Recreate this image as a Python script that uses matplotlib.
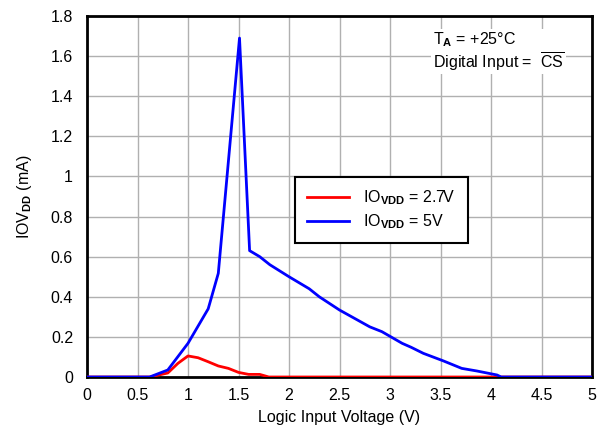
import matplotlib
matplotlib.use("Agg")
import matplotlib.pyplot as plt

plt.rcParams['font.family'] = ['Liberation Sans', 'DejaVu Sans']
plt.rcParams['mathtext.fontset'] = 'custom'
plt.rcParams['mathtext.rm'] = 'Liberation Sans'
plt.rcParams['mathtext.bf'] = 'Liberation Sans:bold'
plt.rcParams['mathtext.it'] = 'Liberation Sans:italic'

x_27 = [0, 0.62, 0.8, 0.9, 1.0, 1.1, 1.2, 1.3, 1.4, 1.5, 1.6, 1.71, 1.8, 5.0]
y_27 = [0, 0, 0.02, 0.068, 0.105, 0.096, 0.076, 0.055, 0.043, 0.023, 0.013, 0.013, 0, 0]

x_5 = [0, 0.62, 0.8, 1.0, 1.2, 1.3, 1.51, 1.61, 1.71, 1.81, 2.0, 2.2, 2.3, 2.5,
       2.8, 2.92, 3.12, 3.21, 3.33, 3.53, 3.71, 3.86, 4.06, 4.1, 5.0]
y_5 = [0, 0, 0.035, 0.168, 0.34, 0.517, 1.69, 0.63, 0.60, 0.56, 0.50, 0.44, 0.40, 0.334,
       0.25, 0.226, 0.168, 0.148, 0.118, 0.08, 0.043, 0.03, 0.01, 0, 0]

x_ticks = [0, 0.5, 1, 1.5, 2, 2.5, 3, 3.5, 4, 4.5, 5]
x_labels = ['0', '0.5', '1', '1.5', '2', '2.5', '3', '3.5', '4', '4.5', '5']
y_ticks = [0, 0.2, 0.4, 0.6, 0.8, 1.0, 1.2, 1.4, 1.6, 1.8]
y_labels = ['0', '0.2', '0.4', '0.6', '0.8', '1', '1.2', '1.4', '1.6', '1.8']

fig = plt.figure(figsize=(5.99, 4.30), dpi=100)
ax = fig.add_axes([87/599, 1-377/430, 505/599, 361/430])

ax.plot(x_27, y_27, color='#ff0000', lw=2, label=r'IO$_{\mathbf{VDD}}$ = 2.7V', zorder=3)
ax.plot(x_5, y_5, color='#0000ff', lw=2, label=r'IO$_{\mathbf{VDD}}$ = 5V', zorder=3)

ax.set_xlim(0, 5)
ax.set_ylim(0, 1.8)
ax.set_xticks(x_ticks)
ax.set_xticklabels(x_labels)
ax.set_yticks(y_ticks)
ax.set_yticklabels(y_labels)
ax.tick_params(axis='x', length=0, labelsize=11.5, pad=8)
ax.tick_params(axis='y', length=0, labelsize=11.5, pad=10)
ax.grid(True, color='#b0b0b0', lw=1)
ax.set_axisbelow(True)
for s in ax.spines.values():
    s.set_linewidth(2)
    s.set_color('black')

ax.set_xlabel('Logic Input Voltage (V)', fontsize=11.5, labelpad=5)
ax.set_ylabel(r'IOV$_{\mathbf{DD}}$ (mA)', fontsize=11.5, labelpad=12)

leg = ax.legend(loc='center', bbox_to_anchor=(0.583, 0.463), fontsize=11.5,
                frameon=True, fancybox=False, edgecolor='black', framealpha=1,
                handlelength=2.6, borderpad=0.75, handletextpad=0.9, labelspacing=0.3,
                borderaxespad=0)
leg.get_frame().set_linewidth(1.5)

ax.text(0.685, 0.96, r'T$_{\mathbf{A}}$ = +25°C' + '\n' + r'Digital Input =  $\overline{\mathrm{CS}}$',
        transform=ax.transAxes, ha='left', va='top', fontsize=11.5, linespacing=1.05,
        bbox=dict(facecolor='white', edgecolor='none', pad=1))

fig.savefig('out.png', dpi=100)
